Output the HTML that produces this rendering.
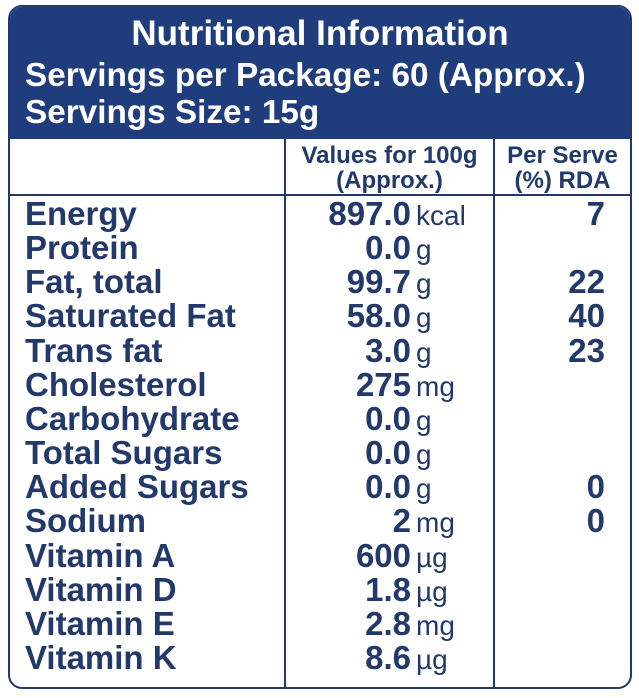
<!DOCTYPE html>
<html><head><meta charset="utf-8"><style>
*{margin:0;padding:0;box-sizing:border-box}
body{width:639px;height:698px;background:#fff;position:relative;overflow:hidden;font-family:"Liberation Sans",sans-serif;color:#23396b}
#box{position:absolute;left:8px;top:5px;width:624px;height:684px;border:2.5px solid #23396b;border-radius:14px;overflow:hidden}
#hd{position:absolute;left:0;top:0;width:100%;height:132px;background:#1f3c7c;color:#fff}
.t{position:absolute;white-space:nowrap;font-weight:bold;line-height:1}
.v{position:absolute;left:236px;width:165px;text-align:right;font-weight:bold;font-size:33px;line-height:33px;white-space:nowrap}
.u{position:absolute;left:406px;font-size:28px;line-height:28px;white-space:nowrap}
.p{position:absolute;left:500px;width:95px;text-align:right;font-weight:bold;font-size:33px;line-height:33px}
.l{position:absolute;left:15px;font-weight:bold;font-size:33px;line-height:33px;white-space:nowrap}
.vl{position:absolute;top:132px;bottom:0;width:2px;background:#23396b}
</style></head><body>
<div id="box">
<div id="hd">
<div class="t" style="left:0;width:100%;text-align:center;top:9px;font-size:35px">Nutritional Information</div>
<div class="t" style="left:15px;top:52px;font-size:33.3px">Servings per Package: 60 (Approx.)</div>
<div class="t" style="left:15px;top:89px;font-size:33.3px">Servings Size: 15g</div>
</div>
<div class="vl" style="left:274px"></div>
<div class="vl" style="left:483px"></div>
<div style="position:absolute;left:0;right:0;top:187px;height:2px;background:#23396b"></div>
<div class="t" style="left:276px;width:207px;text-align:center;top:136px;font-size:24px;line-height:25px">Values for 100g<br>(Approx.)</div>
<div class="t" style="left:485px;width:135px;text-align:center;top:136px;font-size:24px;line-height:25px">Per Serve<br>(%) RDA</div>
</div>
<div id="rows"></div>
<script>
var d=[["Energy","897.0","kcal","7"],["Protein","0.0","g",""],["Fat, total","99.7","g","22"],["Saturated Fat","58.0","g","40"],["Trans fat","3.0","g","23"],["Cholesterol","275","mg",""],["Carbohydrate","0.0","g",""],["Total Sugars","0.0","g",""],["Added Sugars","0.0","g","0"],["Sodium","2","mg","0"],["Vitamin A","600","µg",""],["Vitamin D","1.8","µg",""],["Vitamin E","2.8","mg",""],["Vitamin K","8.6","µg",""]];
var h="";d.forEach(function(r,i){var y=190+i*34.15;
h+='<div class="l" style="top:'+y+'px">'+r[0]+'</div><div class="v" style="top:'+y+'px">'+r[1]+'</div><div class="u" style="top:'+(y+5)+'px">'+r[2]+'</div><div class="p" style="top:'+y+'px">'+r[3]+'</div>';});
document.getElementById("box").insertAdjacentHTML("beforeend",h);
</script>
</body></html>
